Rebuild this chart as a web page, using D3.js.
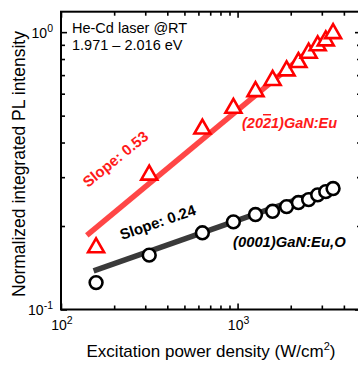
<!DOCTYPE html>
<meta charset="utf-8">
<script src="https://d3js.org/d3.v7.min.js"></script>
<style>
  body { margin: 0; background: #fff; }
  text { font-family: "Liberation Sans", Arial, sans-serif; }
</style>
<div id="my_dataviz"></div>
<script>

// excitation power density (W/cm2) and normalized PL intensity
var power = [158, 316, 632, 947, 1263, 1579, 1895, 2210, 2526, 2842, 3158, 3474];
var semiPolar = [0.169, 0.309, 0.453, 0.538, 0.618, 0.678, 0.734, 0.787, 0.850, 0.904, 0.942, 1.0];
var cPlane = [0.125, 0.157, 0.189, 0.207, 0.220, 0.226, 0.235, 0.243, 0.249, 0.259, 0.266, 0.273];

// fitted lines (end points)
var redFitX = [140, 3600], redFitY = [0.185, 1.03];
var blackFitX = [153, 3400], blackFitY = [0.1377, 0.2758];

// ticks
var xMajor = [100, 1000], xMajorExp = ["2", "3"];
var xMinor = [200, 300, 400, 500, 600, 700, 800, 900, 2000, 3000, 4000];
var yMajor = [0.1, 1], yMajorExp = ["-1", "0"];
var yMinor = [0.2, 0.3, 0.4, 0.5, 0.6, 0.7, 0.8, 0.9];

var W = 358, H = 365;
var L = 61, R = 361, T = 11.7, B = 309.5;

var svg = d3.select("#my_dataviz")
  .append("svg")
    .attr("width", W)
    .attr("height", H);

var x = d3.scaleLog().domain([100, 5000]).range([L, R]);
var y = d3.scaleLog().domain([0.1, 1.185]).range([B, T]);

// inward ticks on all four sides
function ticks(axisFn, scale, vals, size, tr) {
  svg.append("g")
    .attr("transform", tr)
    .call(axisFn(scale).tickValues(vals).tickSizeInner(-size).tickSizeOuter(0).tickFormat(""))
    .call(function(g) {
      g.select(".domain").remove();
      g.selectAll("line").attr("stroke", "#000").attr("stroke-width", 1.6);
    });
}
ticks(d3.axisBottom, x, xMinor, 4, "translate(0," + B + ")");
ticks(d3.axisBottom, x, xMajor, 6, "translate(0," + B + ")");
ticks(d3.axisTop, x, xMinor, 4, "translate(0," + T + ")");
ticks(d3.axisTop, x, xMajor, 6, "translate(0," + T + ")");
ticks(d3.axisLeft, y, yMinor, 4, "translate(" + L + ",0)");
ticks(d3.axisLeft, y, yMajor, 6, "translate(" + L + ",0)");
ticks(d3.axisRight, y, yMinor, 4, "translate(" + R + ",0)");
ticks(d3.axisRight, y, yMajor, 6, "translate(" + R + ",0)");

// frame
svg.append("rect")
  .attr("x", L).attr("y", T)
  .attr("width", R - L).attr("height", B - T)
  .attr("fill", "none").attr("stroke", "#000").attr("stroke-width", 2);

// tick labels
var xl = svg.selectAll(".xl").data(xMajor).enter().append("text")
  .attr("x", function(d) { return x(d) + 1; })
  .attr("y", 330)
  .attr("text-anchor", "middle")
  .style("font-size", "14px");
xl.append("tspan").text("10");
xl.append("tspan").attr("dy", -6).style("font-size", "10.5px").text(function(d, i) { return xMajorExp[i]; });

var yl = svg.selectAll(".yl").data(yMajor).enter().append("text")
  .attr("x", 53)
  .attr("y", function(d) { return y(d) + 5.5; })
  .attr("text-anchor", "end")
  .style("font-size", "14px");
yl.append("tspan").text("10");
yl.append("tspan").attr("dy", -6).style("font-size", "10.5px").text(function(d, i) { return yMajorExp[i]; });

// axis titles
var xt = svg.append("text")
  .attr("x", 211).attr("y", 357)
  .attr("text-anchor", "middle")
  .style("font-size", "17px");
xt.append("tspan").text("Excitation power density (W/cm");
xt.append("tspan").attr("dy", -7).style("font-size", "11px").text("2");
xt.append("tspan").attr("dy", 7).text(")");

svg.append("text")
  .attr("transform", "translate(25,164) rotate(-90)")
  .attr("text-anchor", "middle")
  .style("font-size", "17.5px")
  .text("Normalized integrated PL intensity");

// fit lines
var line = d3.line()
  .x(function(d) { return x(d[0]); })
  .y(function(d) { return y(d[1]); });

svg.append("path")
  .datum(d3.zip(redFitX, redFitY))
  .attr("d", line)
  .attr("stroke", "#ff4646").attr("stroke-width", 5.5).attr("fill", "none");

svg.append("path")
  .datum(d3.zip(blackFitX, blackFitY))
  .attr("d", line)
  .attr("stroke", "#3a3a3a").attr("stroke-width", 5.5).attr("fill", "none");

// triangles
svg.selectAll(".tri")
  .data(d3.zip(power, semiPolar))
  .enter().append("path")
    .attr("d", function(d) {
      var cx = x(d[0]), cy = y(d[1]);
      return "M" + cx + "," + (cy - 8) + "L" + (cx + 8) + "," + (cy + 6) + "L" + (cx - 8) + "," + (cy + 6) + "Z";
    })
    .attr("fill", "#fff").attr("stroke", "#ff0000").attr("stroke-width", 2.6)
    .attr("stroke-linejoin", "miter");

// circles
svg.selectAll(".dot")
  .data(d3.zip(power, cPlane))
  .enter().append("circle")
    .attr("cx", function(d) { return x(d[0]); })
    .attr("cy", function(d) { return y(d[1]); })
    .attr("r", 6.4)
    .attr("fill", "#fff").attr("stroke", "#000").attr("stroke-width", 2.6);

// annotations
svg.append("text").attr("x", 72).attr("y", 33).style("font-size", "14.5px").text("He-Cd laser @RT");
svg.append("text").attr("x", 72).attr("y", 50).style("font-size", "14.5px").text("1.971 \u2013 2.016 eV");

var lab1 = svg.append("text").attr("x", 242).attr("y", 128)
  .style("font-size", "14.5px").style("font-weight", "bold").style("font-style", "italic")
  .attr("fill", "#ff1a1a");
lab1.append("tspan").text("(20");
lab1.append("tspan").style("text-decoration", "overline").text("2");
lab1.append("tspan").text("1)GaN:Eu");

svg.append("text").attr("x", 233).attr("y", 247)
  .style("font-size", "14.8px").style("font-weight", "bold").style("font-style", "italic")
  .text("(0001)GaN:Eu,O");

svg.append("text")
  .attr("transform", "translate(88,188) rotate(-39)")
  .style("font-size", "15px").style("font-weight", "bold")
  .attr("fill", "#ff1a1a")
  .text("Slope: 0.53");

svg.append("text")
  .attr("transform", "translate(122,240) rotate(-19)")
  .style("font-size", "15px").style("font-weight", "bold")
  .text("Slope: 0.24");

</script>
